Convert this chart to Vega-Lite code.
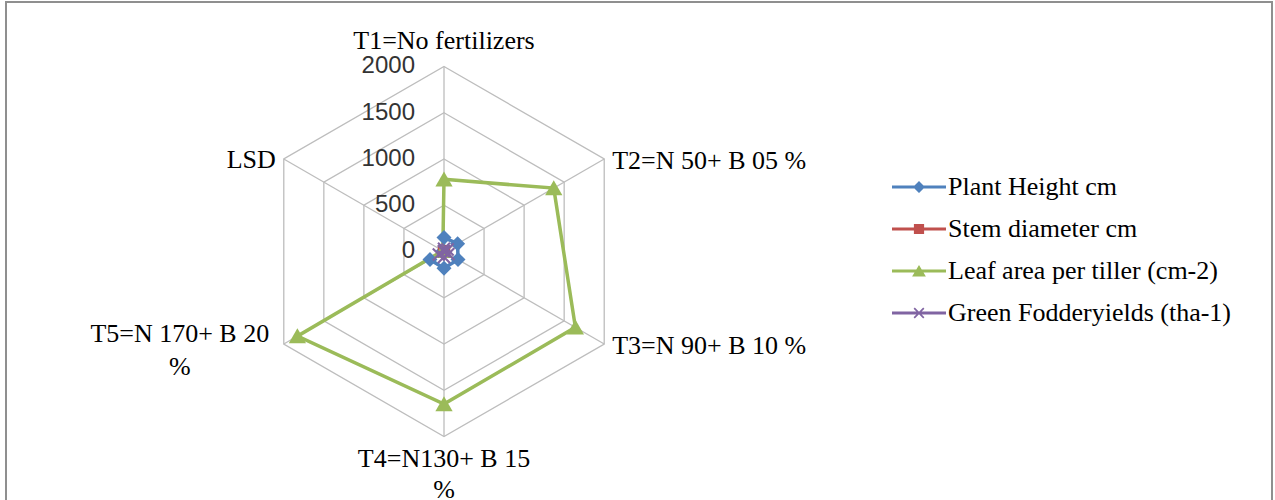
{
  "$schema": "https://vega.github.io/schema/vega-lite/v6.json",
  "width": 1266,
  "height": 510,
  "autosize": {"type": "none"},
  "padding": {"left": 6, "top": 2, "right": 3, "bottom": 0},
  "background": "white",
  "config": {"view": {"stroke": "#8f8f8f", "strokeWidth": 2}},
  "datasets": {
    "cats": [
      {"category": "T1=No fertilizers", "i": 0, "label": "T1=No fertilizers"},
      {"category": "T2=N 50+ B 05 %", "i": 1, "label": "T2=N 50+ B 05 %"},
      {"category": "T3=N 90+ B 10 %", "i": 2, "label": "T3=N 90+ B 10 %"},
      {"category": "T4=N130+ B 15 %", "i": 3, "label": ["T4=N130+ B 15", "%"]},
      {"category": "T5=N 170+ B 20 %", "i": 4, "label": ["T5=N 170+ B 20", "%"]},
      {"category": "LSD", "i": 5, "label": "LSD"}
    ],
    "series": [
      {"category": "T1=No fertilizers", "i": 0, "series": "Plant Height cm", "value": 150},
      {"category": "T2=N 50+ B 05 %", "i": 1, "series": "Plant Height cm", "value": 170},
      {"category": "T3=N 90+ B 10 %", "i": 2, "series": "Plant Height cm", "value": 175},
      {"category": "T4=N130+ B 15 %", "i": 3, "series": "Plant Height cm", "value": 180},
      {"category": "T5=N 170+ B 20 %", "i": 4, "series": "Plant Height cm", "value": 175},
      {"category": "LSD", "i": 5, "series": "Plant Height cm", "value": 12},
      {"category": "T1=No fertilizers", "i": 0, "series": "Stem diameter cm", "value": 1.8},
      {"category": "T2=N 50+ B 05 %", "i": 1, "series": "Stem diameter cm", "value": 2.0},
      {"category": "T3=N 90+ B 10 %", "i": 2, "series": "Stem diameter cm", "value": 2.1},
      {"category": "T4=N130+ B 15 %", "i": 3, "series": "Stem diameter cm", "value": 2.2},
      {"category": "T5=N 170+ B 20 %", "i": 4, "series": "Stem diameter cm", "value": 2.3},
      {"category": "LSD", "i": 5, "series": "Stem diameter cm", "value": 0.2},
      {"category": "T1=No fertilizers", "i": 0, "series": "Leaf area per tiller (cm-2)", "value": 780},
      {"category": "T2=N 50+ B 05 %", "i": 1, "series": "Leaf area per tiller (cm-2)", "value": 1370},
      {"category": "T3=N 90+ B 10 %", "i": 2, "series": "Leaf area per tiller (cm-2)", "value": 1640},
      {"category": "T4=N130+ B 15 %", "i": 3, "series": "Leaf area per tiller (cm-2)", "value": 1650},
      {"category": "T5=N 170+ B 20 %", "i": 4, "series": "Leaf area per tiller (cm-2)", "value": 1830},
      {"category": "LSD", "i": 5, "series": "Leaf area per tiller (cm-2)", "value": 15},
      {"category": "T1=No fertilizers", "i": 0, "series": "Green Fodderyields (tha-1)", "value": 30},
      {"category": "T2=N 50+ B 05 %", "i": 1, "series": "Green Fodderyields (tha-1)", "value": 45},
      {"category": "T3=N 90+ B 10 %", "i": 2, "series": "Green Fodderyields (tha-1)", "value": 55},
      {"category": "T4=N130+ B 15 %", "i": 3, "series": "Green Fodderyields (tha-1)", "value": 60},
      {"category": "T5=N 170+ B 20 %", "i": 4, "series": "Green Fodderyields (tha-1)", "value": 65},
      {"category": "LSD", "i": 5, "series": "Green Fodderyields (tha-1)", "value": 3}
    ],
    "levels": [
      {"level": 0}, {"level": 500}, {"level": 1000}, {"level": 1500}, {"level": 2000}
    ],
    "grid": [
      {"level": 500, "i": [0, 1, 2, 3, 4, 5]},
      {"level": 1000, "i": [0, 1, 2, 3, 4, 5]},
      {"level": 1500, "i": [0, 1, 2, 3, 4, 5]},
      {"level": 2000, "i": [0, 1, 2, 3, 4, 5]}
    ]
  },
  "layer": [
    {
      "data": {"name": "grid"},
      "transform": [
        {"flatten": ["i"]},
        {"calculate": "datum.level * sin(datum.i * PI / 3)", "as": "gx"},
        {"calculate": "datum.level * cos(datum.i * PI / 3)", "as": "gy"}
      ],
      "mark": {"type": "line", "interpolate": "linear-closed", "stroke": "#bdbdbd", "strokeWidth": 1.3},
      "encoding": {
        "x": {"field": "gx", "type": "quantitative", "scale": {"domain": [-4735, 8951], "nice": false, "zero": false}, "axis": null},
        "y": {"field": "gy", "type": "quantitative", "scale": {"domain": [-2816, 2697], "nice": false, "zero": false}, "axis": null},
        "detail": {"field": "level", "type": "nominal"},
        "order": {"field": "i", "type": "quantitative"}
      }
    },
    {
      "data": {"name": "cats"},
      "transform": [
        {"calculate": "2000 * sin(datum.i * PI / 3)", "as": "vx"},
        {"calculate": "2000 * cos(datum.i * PI / 3)", "as": "vy"},
        {"calculate": "0", "as": "origin"}
      ],
      "mark": {"type": "rule", "stroke": "#bdbdbd", "strokeWidth": 1.3},
      "encoding": {
        "x": {"field": "origin", "type": "quantitative"},
        "y": {"field": "origin", "type": "quantitative"},
        "x2": {"field": "vx"},
        "y2": {"field": "vy"}
      }
    },
    {
      "data": {"name": "levels"},
      "transform": [{"calculate": "0", "as": "origin"}],
      "mark": {"type": "text", "align": "right", "baseline": "middle", "dx": -29, "font": "Liberation Sans", "fontSize": 24, "color": "#333333"},
      "encoding": {
        "x": {"field": "origin", "type": "quantitative"},
        "y": {"field": "level", "type": "quantitative"},
        "text": {"field": "level", "type": "quantitative", "format": "d"}
      }
    },
    {
      "data": {"name": "series"},
      "transform": [
        {"calculate": "datum.value * sin(datum.i * PI / 3)", "as": "px"},
        {"calculate": "datum.value * cos(datum.i * PI / 3)", "as": "py"}
      ],
      "mark": {"type": "line", "interpolate": "linear-closed", "strokeWidth": 3.5},
      "encoding": {
        "x": {"field": "px", "type": "quantitative"},
        "y": {"field": "py", "type": "quantitative"},
        "order": {"field": "i", "type": "quantitative"},
        "color": {
          "field": "series",
          "type": "nominal",
          "scale": {
            "domain": ["Plant Height cm", "Stem diameter cm", "Leaf area per tiller (cm-2)", "Green Fodderyields (tha-1)"],
            "range": ["#4F81BD", "#C0504D", "#9BBB59", "#8064A2"]
          },
          "legend": {
            "title": null,
            "orient": "none",
            "legendX": 900,
            "legendY": 172,
            "padding": 0,
            "symbolSize": 144,
            "rowPadding": 16,
            "labelFont": "Liberation Serif",
            "labelFontSize": 26,
            "labelColor": "#000000",
            "labelOffset": 16,
            "labelLimit": 500,
            "encode": {
              "symbols": {
                "update": {
                  "shape": {"signal": "datum.value === 'Plant Height cm' ? 'M-4.5,-0.25L4.5,-0.25L4.5,0.25L-4.5,0.25Z M0,-1L1,0L0,1L-1,0Z' : datum.value === 'Stem diameter cm' ? 'M-4.5,-0.25L4.5,-0.25L4.5,0.25L-4.5,0.25Z M-0.85,-0.85L0.85,-0.85L0.85,0.85L-0.85,0.85Z' : datum.value === 'Leaf area per tiller (cm-2)' ? 'M-4.5,-0.25L4.5,-0.25L4.5,0.25L-4.5,0.25Z M0,-1L1.15,0.9L-1.15,0.9Z' : 'M-4.5,-0.25L4.5,-0.25L4.5,0.25L-4.5,0.25Z M-0.9,-0.7L-0.7,-0.9L0,-0.2L0.7,-0.9L0.9,-0.7L0.2,0L0.9,0.7L0.7,0.9L0,0.2L-0.7,0.9L-0.9,0.7L-0.2,0Z'"},
                  "fill": {"scale": "color", "field": "value"},
                  "strokeWidth": {"value": 0},
                  "opacity": {"value": 1},
                  "size": {"value": 144}
                }
              }
            }
          }
        }
      }
    },
    {
      "data": {"name": "series"},
      "transform": [
        {"filter": "datum.series === 'Plant Height cm'"},
        {"calculate": "datum.value * sin(datum.i * PI / 3)", "as": "px"},
        {"calculate": "datum.value * cos(datum.i * PI / 3)", "as": "py"}
      ],
      "mark": {"type": "point", "filled": true, "size": 225, "opacity": 1, "strokeWidth": 0, "fill": "#4F81BD", "shape": "M0,-1L1,0L0,1L-1,0Z"},
      "encoding": {
        "x": {"field": "px", "type": "quantitative"},
        "y": {"field": "py", "type": "quantitative"}
      }
    },
    {
      "data": {"name": "series"},
      "transform": [
        {"filter": "datum.series === 'Stem diameter cm'"},
        {"calculate": "datum.value * sin(datum.i * PI / 3)", "as": "px"},
        {"calculate": "datum.value * cos(datum.i * PI / 3)", "as": "py"}
      ],
      "mark": {"type": "point", "filled": true, "size": 225, "opacity": 1, "strokeWidth": 0, "fill": "#C0504D", "shape": "M-0.8,-0.8L0.8,-0.8L0.8,0.8L-0.8,0.8Z"},
      "encoding": {
        "x": {"field": "px", "type": "quantitative"},
        "y": {"field": "py", "type": "quantitative"}
      }
    },
    {
      "data": {"name": "series"},
      "transform": [
        {"filter": "datum.series === 'Leaf area per tiller (cm-2)'"},
        {"calculate": "datum.value * sin(datum.i * PI / 3)", "as": "px"},
        {"calculate": "datum.value * cos(datum.i * PI / 3)", "as": "py"}
      ],
      "mark": {"type": "point", "filled": true, "size": 225, "opacity": 1, "strokeWidth": 0, "fill": "#9BBB59", "shape": "M0,-1.05L1.15,0.95L-1.15,0.95Z"},
      "encoding": {
        "x": {"field": "px", "type": "quantitative"},
        "y": {"field": "py", "type": "quantitative"}
      }
    },
    {
      "data": {"name": "series"},
      "transform": [
        {"filter": "datum.series === 'Green Fodderyields (tha-1)'"},
        {"calculate": "datum.value * sin(datum.i * PI / 3)", "as": "px"},
        {"calculate": "datum.value * cos(datum.i * PI / 3)", "as": "py"}
      ],
      "mark": {"type": "point", "filled": true, "size": 225, "opacity": 1, "strokeWidth": 0, "fill": "#8064A2", "shape": "M-0.9,-0.7L-0.7,-0.9L0,-0.2L0.7,-0.9L0.9,-0.7L0.2,0L0.9,0.7L0.7,0.9L0,0.2L-0.7,0.9L-0.9,0.7L-0.2,0Z"},
      "encoding": {
        "x": {"field": "px", "type": "quantitative"},
        "y": {"field": "py", "type": "quantitative"}
      }
    },
    {
      "data": {"name": "cats"},
      "transform": [
        {"filter": "datum.i === 0"},
        {"calculate": "2000 * sin(datum.i * PI / 3)", "as": "vx"},
        {"calculate": "2000 * cos(datum.i * PI / 3)", "as": "vy"}
      ],
      "mark": {"type": "text", "align": "center", "baseline": "alphabetic", "dy": -17, "font": "Liberation Serif", "fontSize": 26, "color": "#000000"},
      "encoding": {
        "x": {"field": "vx", "type": "quantitative"},
        "y": {"field": "vy", "type": "quantitative"},
        "text": {"field": "label", "type": "nominal"}
      }
    },
    {
      "data": {"name": "cats"},
      "transform": [
        {"filter": "datum.i === 1 || datum.i === 2"},
        {"calculate": "2000 * sin(datum.i * PI / 3)", "as": "vx"},
        {"calculate": "2000 * cos(datum.i * PI / 3)", "as": "vy"}
      ],
      "mark": {"type": "text", "align": "left", "baseline": "middle", "dx": 8, "dy": 2, "font": "Liberation Serif", "fontSize": 26, "color": "#000000"},
      "encoding": {
        "x": {"field": "vx", "type": "quantitative"},
        "y": {"field": "vy", "type": "quantitative"},
        "text": {"field": "label", "type": "nominal"}
      }
    },
    {
      "data": {"name": "cats"},
      "transform": [
        {"filter": "datum.i === 3"},
        {"calculate": "2000 * sin(datum.i * PI / 3)", "as": "vx"},
        {"calculate": "2000 * cos(datum.i * PI / 3)", "as": "vy"}
      ],
      "mark": {"type": "text", "align": "center", "baseline": "top", "dy": 9, "lineHeight": 31, "font": "Liberation Serif", "fontSize": 26, "color": "#000000"},
      "encoding": {
        "x": {"field": "vx", "type": "quantitative"},
        "y": {"field": "vy", "type": "quantitative"},
        "text": {"field": "label", "type": "nominal"}
      }
    },
    {
      "data": {"name": "cats"},
      "transform": [
        {"filter": "datum.i === 4"},
        {"calculate": "2000 * sin(datum.i * PI / 3)", "as": "vx"},
        {"calculate": "2000 * cos(datum.i * PI / 3)", "as": "vy"}
      ],
      "mark": {"type": "text", "align": "center", "baseline": "top", "dx": -104, "dy": -23, "lineHeight": 33, "font": "Liberation Serif", "fontSize": 26, "color": "#000000"},
      "encoding": {
        "x": {"field": "vx", "type": "quantitative"},
        "y": {"field": "vy", "type": "quantitative"},
        "text": {"field": "label", "type": "nominal"}
      }
    },
    {
      "data": {"name": "cats"},
      "transform": [
        {"filter": "datum.i === 5"},
        {"calculate": "2000 * sin(datum.i * PI / 3)", "as": "vx"},
        {"calculate": "2000 * cos(datum.i * PI / 3)", "as": "vy"}
      ],
      "mark": {"type": "text", "align": "right", "baseline": "middle", "dx": -8, "dy": 1, "font": "Liberation Serif", "fontSize": 26, "color": "#000000"},
      "encoding": {
        "x": {"field": "vx", "type": "quantitative"},
        "y": {"field": "vy", "type": "quantitative"},
        "text": {"field": "label", "type": "nominal"}
      }
    }
  ]
}
